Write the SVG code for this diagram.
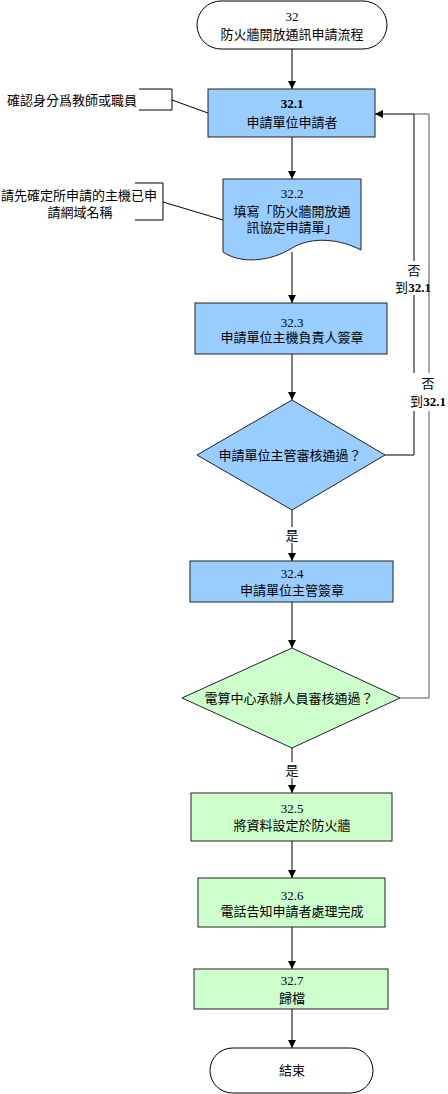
<svg xmlns="http://www.w3.org/2000/svg" width="448" height="1094" viewBox="0 0 448 1094">
<style>
text{font-family:"Liberation Serif","Noto Sans CJK TC",serif;font-size:13px;fill:#000;text-anchor:middle}
.l{text-anchor:start}
.b{font-weight:bold}
.blue{fill:#99ccff;stroke:#222;stroke-width:1}
.green{fill:#ccffcc;stroke:#222;stroke-width:1}
.term{fill:#fff;stroke:#000;stroke-width:1}
.c{fill:none;stroke:#000;stroke-width:1}
.g{fill:none;stroke:#555;stroke-width:1}
.bg{fill:#fff;stroke:none}
</style>
<defs>
<marker id="ah" markerUnits="userSpaceOnUse" markerWidth="8" markerHeight="8" refX="8" refY="4" orient="auto">
<path d="M0,0 L8,4 L0,8 z" fill="#000"/>
</marker>
</defs>
<rect width="448" height="1094" fill="#fff"/>
<g id="connectors">
<path class="c" d="M292,49 V89" marker-end="url(#ah)"/>
<path class="c" d="M292,137 V179" marker-end="url(#ah)"/>
<path class="c" d="M292,252 V303" marker-end="url(#ah)"/>
<path class="c" d="M292,354 V400" marker-end="url(#ah)"/>
<path class="c" d="M292,510 V561" marker-end="url(#ah)"/>
<path class="c" d="M292,602 V648" marker-end="url(#ah)"/>
<path class="c" d="M292,748 V793" marker-end="url(#ah)"/>
<path class="c" d="M292,841 V878" marker-end="url(#ah)"/>
<path class="c" d="M292,927 V969" marker-end="url(#ah)"/>
<path class="c" d="M292,1009 V1048" marker-end="url(#ah)"/>
<path class="c" d="M385,455 H414 V114 H375" marker-end="url(#ah)"/>
<rect class="bg" x="397" y="261" width="30" height="34"/>
<path class="g" d="M400,698 H429 V114 H414"/>
<rect class="bg" x="405" y="373" width="43" height="38"/>
<text x="414" y="275">否</text>
<text x="413" y="292">到<tspan class="b">32.1</tspan></text>
<text x="428" y="388">否</text>
<text x="428" y="406">到<tspan class="b">32.1</tspan></text>
<rect class="bg" x="284" y="527" width="16" height="16"/>
<text x="292" y="540">是</text>
<rect class="bg" x="284" y="762" width="16" height="16"/>
<text x="292" y="775">是</text>
<path class="c" d="M139,89 H172 V110 H139"/>
<path class="c" d="M172,100 L208,113"/>
<path class="c" d="M135,183 H163 V220 H135"/>
<path class="c" d="M163,202 L223,220"/>
</g>
<g id="note1">
<text class="l" x="7" y="105">確認身分爲教師或職員</text>
</g>
<g id="note2">
<text class="l" x="1" y="200">請先確定所申請的主機已申</text>
<text x="80" y="217">請網域名稱</text>
</g>
<g id="start">
<rect class="term" x="197" y="1" width="190" height="48" rx="24" ry="24"/>
<text x="292" y="21">32</text>
<text x="292" y="39">防火牆開放通訊申請流程</text>
</g>
<g id="n32_1">
<rect class="blue" x="208" y="89" width="167" height="48"/>
<text class="b" x="292" y="108">32.1</text>
<text x="292" y="127">申請單位申請者</text>
</g>
<g id="n32_2">
<path class="blue" d="M223,179 H361 V250 C340,239 312,236 292,248 C270,262 240,264 223,252 Z"/>
<text x="292" y="198">32.2</text>
<text x="292" y="216">填寫「防火牆開放通</text>
<text x="292" y="232">訊協定申請單」</text>
</g>
<g id="n32_3">
<rect class="blue" x="195" y="303" width="192" height="51"/>
<text x="292" y="327">32.3</text>
<text x="292" y="342">申請單位主機負責人簽章</text>
</g>
<g id="d1">
<path class="blue" d="M292,400 L385,455 L292,510 L197,455 Z"/>
<text x="290" y="460">申請單位主管審核通過？</text>
</g>
<g id="n32_4">
<rect class="blue" x="190" y="561" width="203" height="41"/>
<text x="292" y="578">32.4</text>
<text x="292" y="595">申請單位主管簽章</text>
</g>
<g id="d2">
<path class="green" d="M292,648 L400,698 L292,748 L182,698 Z"/>
<text x="289" y="703">電算中心承辦人員審核通過？</text>
</g>
<g id="n32_5">
<rect class="green" x="191" y="793" width="201" height="48"/>
<text x="292" y="813">32.5</text>
<text x="292" y="830">將資料設定於防火牆</text>
</g>
<g id="n32_6">
<rect class="green" x="198" y="878" width="187" height="49"/>
<text x="292" y="900">32.6</text>
<text x="292" y="916">電話告知申請者處理完成</text>
</g>
<g id="n32_7">
<rect class="green" x="194" y="969" width="194" height="40"/>
<text x="292" y="985">32.7</text>
<text x="292" y="1003">歸檔</text>
</g>
<g id="end">
<rect class="term" x="210" y="1048" width="163" height="45" rx="22.5" ry="22.5"/>
<text x="292" y="1075">結束</text>
</g>
</svg>
